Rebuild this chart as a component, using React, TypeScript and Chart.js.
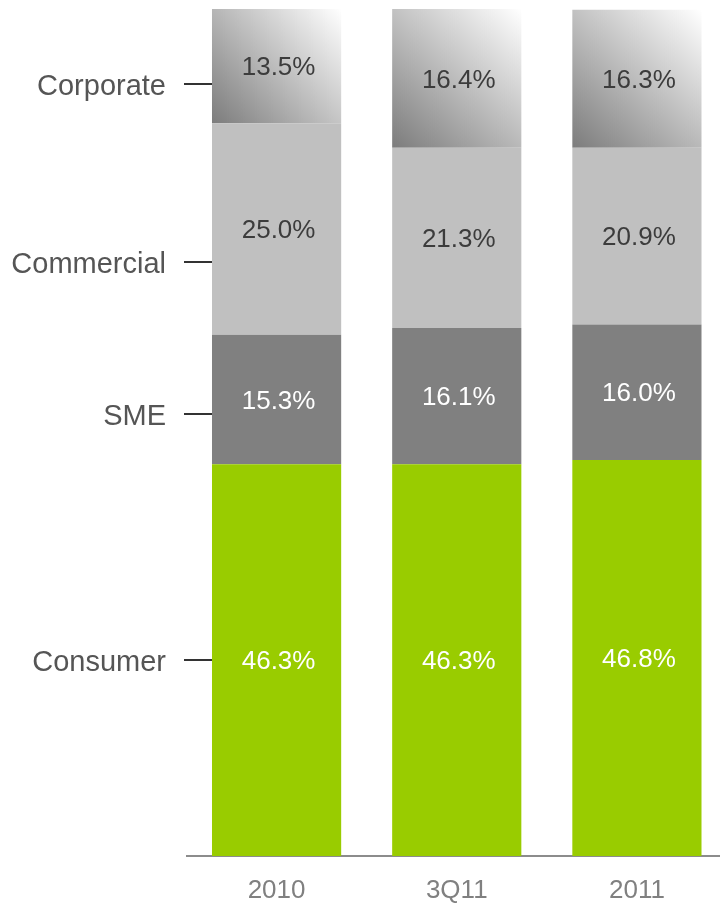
import React, { useEffect, useRef } from "react";
import { Chart, registerables } from "chart.js";

Chart.register(...registerables);

const categories = ["2010", "3Q11", "2011"];
const seriesNames = ["Consumer", "SME", "Commercial", "Corporate"];
const consumer = [46.3, 46.3, 46.8];
const sme = [15.3, 16.1, 16.0];
const commercial = [25.0, 21.3, 20.9];
const corporate = [13.5, 16.4, 16.3];
// value on the y scale where each series name is written at the left
const nameAnchors = [23.2, 52.2, 70.2, 91.2];

const BAR_PCT = 0.717;
const FONT = "'Liberation Sans', Arial, sans-serif";

const fmt = (v: number) => v.toFixed(1) + "%";

const labelPlugin = {
  id: "segLabels",
  afterDatasetsDraw(chart: any) {
    const ctx = chart.ctx;
    const textColors = ["#ffffff", "#ffffff", "#3c3c3c", "#3c3c3c"];
    ctx.save();
    ctx.font = `26px ${FONT}`;
    ctx.textAlign = "center";
    ctx.textBaseline = "middle";
    chart.data.datasets.forEach((ds: any, di: number) => {
      const meta = chart.getDatasetMeta(di);
      meta.data.forEach((el: any, i: number) => {
        const p = el.getProps(["x", "y", "base"], true);
        ctx.fillStyle = textColors[di];
        ctx.fillText(fmt(ds.data[i]), p.x + 2, (p.y + p.base) / 2 + 2);
      });
    });
    // series names with short leader lines at the left
    const y = chart.scales.y;
    const first = chart.getDatasetMeta(0).data[0];
    const fp = first.getProps(["x", "width"], true);
    const barLeft = fp.x - fp.width / 2;
    ctx.font = `29px ${FONT}`;
    ctx.textAlign = "right";
    seriesNames.forEach((name, k) => {
      const py = Math.round(y.getPixelForValue(nameAnchors[k]));
      ctx.fillStyle = "#555555";
      ctx.fillText(name, barLeft - 46, py + 2.5);
      ctx.strokeStyle = "#333333";
      ctx.lineWidth = 2;
      ctx.beginPath();
      ctx.moveTo(barLeft - 28, py);
      ctx.lineTo(barLeft, py);
      ctx.stroke();
    });
    ctx.restore();
  },
};

function corporateFill(c: any) {
  const chart = c.chart;
  const { chartArea, scales } = chart;
  if (!chartArea || c.type !== "data" || !scales.x || !scales.y) return "#aaaaaa";
  const i = c.dataIndex;
  const x = scales.x.getPixelForValue(i);
  const half = ((scales.x.width / categories.length) * BAR_PCT) / 2;
  const base = consumer[i] + sme[i] + commercial[i];
  const yb = scales.y.getPixelForValue(base);
  const yt = scales.y.getPixelForValue(base + corporate[i]);
  const g = chart.ctx.createLinearGradient(x - half, yb, x + half, yt);
  g.addColorStop(0, "#7c7c7c");
  g.addColorStop(1, "#ffffff");
  return g;
}

export default function App() {
  const ref = useRef<HTMLCanvasElement>(null);
  useEffect(() => {
    if (!ref.current) return;
    const chart = new Chart(ref.current, {
      type: "bar",
      data: {
        labels: categories,
        datasets: [
          { label: seriesNames[0], data: consumer, backgroundColor: "#99cc00" },
          { label: seriesNames[1], data: sme, backgroundColor: "#808080" },
          { label: seriesNames[2], data: commercial, backgroundColor: "#c0c0c0" },
          { label: seriesNames[3], data: corporate, backgroundColor: corporateFill as any },
        ],
      },
      options: {
        animation: false,
        responsive: false,
        devicePixelRatio: 1,
        datasets: { bar: { barPercentage: BAR_PCT, categoryPercentage: 1, borderWidth: 0 } },
        layout: { padding: { left: 186.5, right: 0, top: 9, bottom: 0 } },
        plugins: { legend: { display: false }, tooltip: { enabled: false } },
        scales: {
          x: {
            stacked: true,
            grid: { display: false, drawTicks: false },
            border: { display: true, color: "#8c8c8c", width: 2 },
            ticks: { color: "#808080", font: { size: 26, family: FONT }, padding: 19 },
            afterFit: (s: any) => {
              s.height = 47;
            },
          },
          y: { stacked: true, display: false, min: 0, max: 100.1 },
        },
      },
      plugins: [labelPlugin],
    });
    return () => chart.destroy();
  }, []);
  return (
    <div style={{ position: "absolute", left: 0, top: 0, width: 720, height: 903, overflow: "hidden", background: "#fff" }}>
      <canvas ref={ref} width={727} height={903} style={{ display: "block", width: 727, height: 903 }} />
    </div>
  );
}
